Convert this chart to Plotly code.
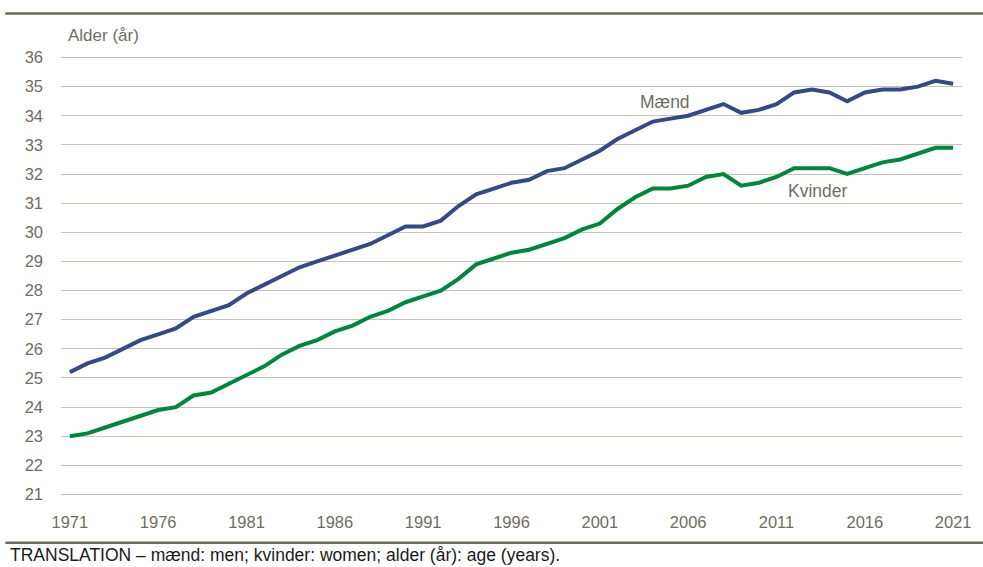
import plotly.graph_objects as go

years = list(range(1971, 2022))
maend = [25.2, 25.5, 25.7, 26.0, 26.3, 26.5, 26.7, 27.1, 27.3, 27.5,
         27.9, 28.2, 28.5, 28.8, 29.0, 29.2, 29.4, 29.6, 29.9, 30.2,
         30.2, 30.4, 30.9, 31.3, 31.5, 31.7, 31.8, 32.1, 32.2, 32.5,
         32.8, 33.2, 33.5, 33.8, 33.9, 34.0, 34.2, 34.4, 34.1, 34.2,
         34.4, 34.8, 34.9, 34.8, 34.5, 34.8, 34.9, 34.9, 35.0, 35.2,
         35.1]
kvinder = [23.0, 23.1, 23.3, 23.5, 23.7, 23.9, 24.0, 24.4, 24.5, 24.8,
           25.1, 25.4, 25.8, 26.1, 26.3, 26.6, 26.8, 27.1, 27.3, 27.6,
           27.8, 28.0, 28.4, 28.9, 29.1, 29.3, 29.4, 29.6, 29.8, 30.1,
           30.3, 30.8, 31.2, 31.5, 31.5, 31.6, 31.9, 32.0, 31.6, 31.7,
           31.9, 32.2, 32.2, 32.2, 32.0, 32.2, 32.4, 32.5, 32.7, 32.9,
           32.9]
x_ticks = [1971, 1976, 1981, 1986, 1991, 1996, 2001, 2006, 2011, 2016, 2021]
y_ticks = list(range(21, 37))

FONT = "Liberation Sans, Arial, sans-serif"
GREY = "#6e6e5f"

T, B = 55.5, 70.8
L, R = 61, 16
PH = 567 - T - B
PW = 983 - L - R


def py(pix):
    return (567 - pix - B) / PH


def px(pix):
    return (pix - L) / PW


fig = go.Figure()
fig.add_trace(go.Scatter(x=years, y=maend, mode="lines", name="Mænd",
                         line=dict(color="#34488a", width=4)))
fig.add_trace(go.Scatter(x=years, y=kvinder, mode="lines", name="Kvinder",
                         line=dict(color="#00873d", width=4)))

fig.update_layout(
    width=983, height=567,
    margin=dict(l=L, r=R, t=T, b=B),
    paper_bgcolor="white", plot_bgcolor="white",
    showlegend=False,
    font=dict(family=FONT, size=16, color=GREY),
    xaxis=dict(range=[1970.5, 2021.5], tickvals=x_ticks, ticktext=[str(v) for v in x_ticks],
               showgrid=False, zeroline=False, showline=False, ticks="",
               ticklabelstandoff=14, tickfont=dict(size=16.5, color=GREY)),
    yaxis=dict(range=[20.95, 36.05], tickvals=y_ticks, showgrid=True,
               gridcolor="#c4c4b6", gridwidth=1.3, zeroline=False, showline=False,
               ticks="", ticklabelstandoff=17, tickfont=dict(size=16.5, color=GREY)),
    shapes=[
        dict(type="line", xref="paper", yref="paper", x0=px(5), x1=px(1000),
             y0=py(13), y1=py(13), line=dict(color="#6b6b5a", width=2.5)),
        dict(type="line", xref="paper", yref="paper", x0=px(5), x1=px(1000),
             y0=py(543), y1=py(543), line=dict(color="#6b6b5a", width=2.5)),
    ],
    annotations=[
        dict(text="Alder (år)", xref="paper", yref="paper", x=px(66),
             y=py(35), xanchor="left", yanchor="middle",
             showarrow=False, font=dict(family=FONT, size=17, color=GREY)),
        dict(text="Mænd", x=2004.7, y=34.46, xanchor="center", yanchor="middle",
             showarrow=False, font=dict(family=FONT, size=17.5, color=GREY)),
        dict(text="Kvinder", x=2013.35, y=31.41, xanchor="center", yanchor="middle",
             showarrow=False, font=dict(family=FONT, size=17.5, color=GREY)),
        dict(text="TRANSLATION – mænd: men; kvinder: women; alder (år): age (years).",
             xref="paper", yref="paper", x=px(8),
             y=py(555), xanchor="left", yanchor="middle",
             showarrow=False, font=dict(family=FONT, size=17.5, color="#1a1a1a")),
    ],
)

fig.write_html(
    "out.html",
    config={"displayModeBar": False},
    post_script=(
        "document.documentElement.style.overflow='hidden';"
        "document.body.style.margin='0';"
        "document.body.style.overflow='hidden';"
    ),
)
